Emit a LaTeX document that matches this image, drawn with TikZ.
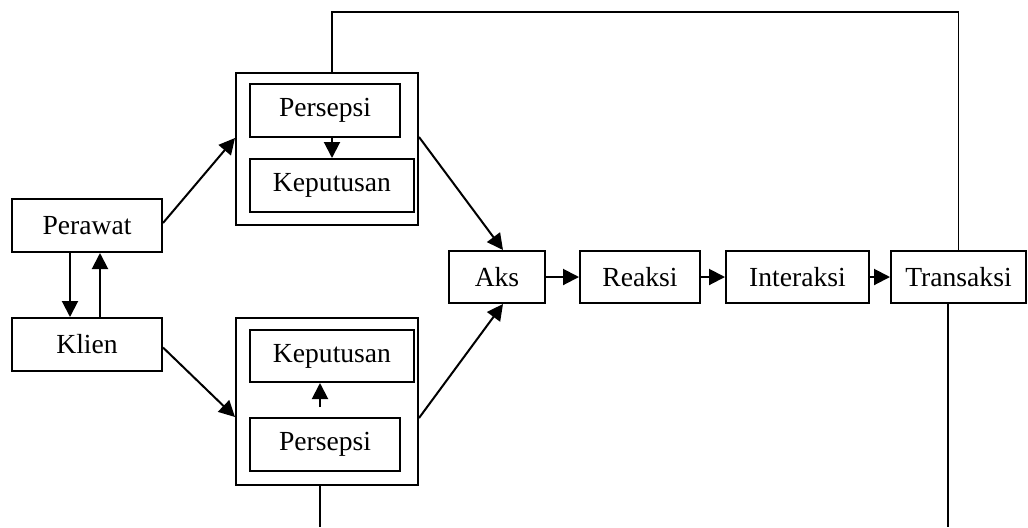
\documentclass[tikz,border=0pt]{standalone}
\usepackage{fontspec}
\setmainfont{Liberation Serif}
\usetikzlibrary{arrows.meta,calc}

\tikzset{
  box/.style={draw, line width=1pt, minimum height=26.5pt, inner sep=0pt, font=\fontsize{13.8}{16}\selectfont},
  outer/.style={draw, line width=1pt, minimum width=91pt, inner sep=0pt},
  arr/.style={line width=1pt, -{Triangle[length=8pt,width=8pt]}},
  link/.style={line width=0.9pt}
}

\begin{document}
\begin{tikzpicture}[x=0.5pt, y=-0.5pt]
\useasboundingbox (0,0) rectangle (1028,527);

% nurse and client
\node[box, minimum width=75pt] (per) at (87,225.5) {Perawat};
\node[box, minimum width=75pt] (kli) at (87,344.5) {Klien};

% upper group
\node[outer, minimum height=76pt] (uo) at (327,149) {};
\node[box, minimum width=75pt] (up) at (325,110.5) {Persepsi};
\node[box, minimum width=82pt] (uk) at (332,185.5) {Keputusan};

% lower group
\node[outer, minimum height=83.5pt] (lo) at (327,401.5) {};
\node[box, minimum width=82pt, minimum height=26pt] (lk) at (332,356) {Keputusan};
\node[box, minimum width=75pt] (lp) at (325,444.5) {Persepsi};

% chain
\node[box, minimum width=48pt, minimum height=26pt] (aks) at (497,277) {Aks};
\node[box, minimum width=60pt, minimum height=26pt] (rea) at (640,277) {Reaksi};
\node[box, minimum width=71.5pt, minimum height=26pt] (int) at (797.5,277) {Interaksi};
\node[box, minimum width=67.5pt, minimum height=26pt] (tra) at (958.5,277) {Transaksi};

\coordinate (lowA) at (320,527);
\coordinate (lowB) at (948,527);

\draw[arr] ([xshift=-8.5pt]per.south) -- ([xshift=-8.5pt]kli.north);
\draw[arr] ([xshift=6.5pt]kli.north) -- ([xshift=6.5pt]per.south);

\draw[arr] ([yshift=1.25pt]per.east) -- ([yshift=5.5pt]uo.west);
\draw[arr] ([yshift=-1.5pt]kli.east) -- ([yshift=-7.75pt]lo.west);

\draw[arr] (uk.north |- up.south) -- (uk.north);
\draw[arr] ([xshift=-2.5pt,yshift=5pt]lp.north) -- ([xshift=-6pt]lk.south);

\draw[arr] ([yshift=6pt]uo.east) -- ([xshift=3pt]aks.north);
\draw[arr] ([yshift=-8.25pt]lo.east) -- ([xshift=3pt]aks.south);

\draw[arr] (aks) -- (rea);
\draw[arr] (rea) -- (int);
\draw[arr] (int) -- (tra);

% feedback lines
\draw[link] ([xshift=2.5pt]uo.north) -- ([xshift=2.5pt]uo.north |- 0,12) -| (tra.north);
\draw[link] (lo.south -| lowA) -- (lowA);
\draw[link] (tra.south -| lowB) -- (lowB);
\end{tikzpicture}
\end{document}
